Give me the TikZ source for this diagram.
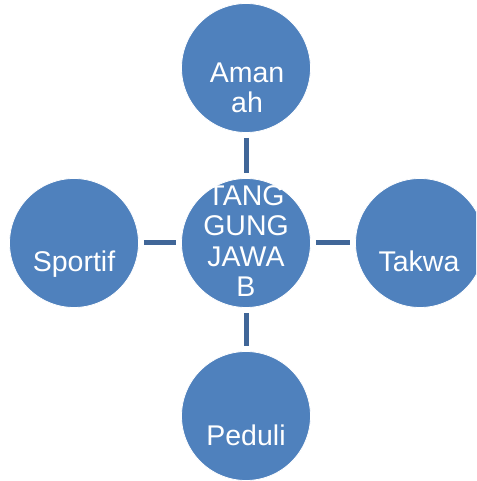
\documentclass[tikz,border=0pt]{standalone}
\usepackage{fontspec}
\setmainfont{Liberation Sans}
\definecolor{cfill}{RGB}{79,129,189}
\definecolor{cline}{RGB}{64,102,152}
\begin{document}
\begin{tikzpicture}[x=1pt,y=1pt,
  bub/.style={circle,fill=cfill,draw=white,line width=0.8pt,minimum size=129pt,inner sep=0pt},
  lbl/.style={text=white,font=\fontsize{28.5}{30.5}\selectfont,align=center,inner sep=0pt,anchor=base},
  conn/.style={draw=cline,line width=5pt,shorten <=5pt,shorten >=5pt}]
\useasboundingbox (0,0) rectangle (476,481);
\clip (0,0) rectangle (476,481);
\node[bub] (top) at (246,413) {};
\node[bub] (ctr) at (246,238) {};
\node[bub] (lft) at (74,238) {};
\node[bub] (rgt) at (420,238) {};
\node[bub] (bot) at (246,65) {};
\draw[conn] (top) -- (ctr);
\draw[conn] (lft) -- (ctr);
\draw[conn] (ctr) -- (rgt);
\draw[conn] (ctr) -- (bot);
\node[lbl] (ttop) at (247,368) {Aman\\ah};
\node[lbl] (tctr) at (246,184) {TANG\\GUNG\\JAWA\\B};
\node[lbl] (tlft) at (74,209) {Sportif};
\node[lbl] (trgt) at (419,209) {Takwa};
\node[lbl] (tbot) at (246,35) {Peduli};
\end{tikzpicture}
\end{document}
